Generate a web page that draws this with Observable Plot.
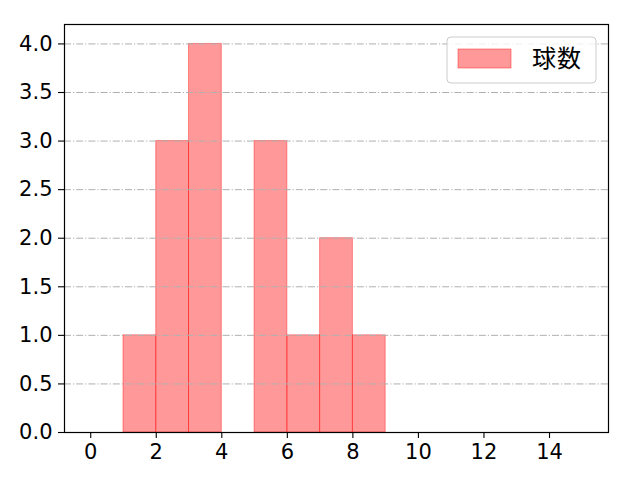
<!DOCTYPE html>
<html>
<head>
<meta charset="utf-8">
<script src="https://cdn.jsdelivr.net/npm/d3@7"></script>
<script src="https://cdn.jsdelivr.net/npm/@observablehq/plot@0.6"></script>
<style>
  html, body { margin: 0; padding: 0; background: #fff; }
  svg { display: block; }
</style>
</head>
<body>
<div id="chart"></div>
<script>
const binStarts = [1, 2, 3, 4, 5, 6, 7, 8];
const binWidth = 1;
const counts = [1, 3, 4, 0, 3, 1, 2, 1];
const xTicks = [0, 2, 4, 6, 8, 10, 12, 14];
const yTicks = [0, 0.5, 1, 1.5, 2, 2.5, 3, 3.5, 4];
const seriesName = "球数";

const bins = binStarts.map((s, i) => ({x1: s, x2: s + binWidth, y: counts[i]})).filter(d => d.y > 0);

const numFont = "'DejaVu Sans', sans-serif";
const cjkFont = "'Noto Sans CJK JP', 'Noto Sans', sans-serif";
const W = 640, H = 480;
const mL = 64, mR = 32, mT = 24, mB = 48;

const plot = Plot.plot({
  width: W,
  height: H,
  marginLeft: mL,
  marginRight: mR,
  marginTop: mT,
  marginBottom: mB,
  style: {fontFamily: numFont, fontSize: "21px", color: "#000", background: "#fff"},
  x: {domain: [-0.8, 15.8], label: null},
  y: {domain: [0, 4.2], label: null},
  marks: [
    Plot.rectY(bins, {x1: "x1", x2: "x2", y: "y", fill: "red", fillOpacity: 0.4, stroke: "red", strokeOpacity: 0.4, strokeWidth: 1}),
    Plot.gridY(yTicks, {stroke: "#b0b0b0", strokeOpacity: 1, strokeWidth: 1, strokeDasharray: "7,2,1.2,2"}),
    Plot.frame({stroke: "#000", strokeWidth: 1.2}),
    Plot.axisX(xTicks, {tickFormat: d => String(d), tickSize: 6, tickPadding: 6, fontSize: 21, stroke: "#000", fill: "#000", strokeWidth: 1.1}),
    Plot.axisY(yTicks, {tickFormat: d => d.toFixed(1), tickSize: 6, tickPadding: 6, fontSize: 21, stroke: "#000", fill: "#000", strokeWidth: 1.1})
  ]
});

document.getElementById("chart").appendChild(plot);

// legend (upper right, inside plot area)
const svg = d3.select(plot);
const lw = 149, lh = 46;
const lx = W - mR - 12 - lw, ly = mT + 13;
const g = svg.append("g").attr("font-family", cjkFont).attr("text-anchor", "start");
g.append("rect").attr("x", lx).attr("y", ly).attr("width", lw).attr("height", lh)
  .attr("rx", 4).attr("fill", "#fff").attr("fill-opacity", 0.8).attr("stroke", "#cccccc").attr("stroke-width", 1);
g.append("rect").attr("x", lx + 11).attr("y", ly + 12).attr("width", 53).attr("height", 19)
  .attr("fill", "red").attr("fill-opacity", 0.4).attr("stroke", "red").attr("stroke-opacity", 0.4);
g.append("text").attr("x", lx + 85).attr("y", ly + 22).attr("dy", "0.35em")
  .attr("font-size", 24).attr("letter-spacing", "1px").attr("fill", "#000").attr("text-anchor", "start").text(seriesName);
</script>
</body>
</html>
